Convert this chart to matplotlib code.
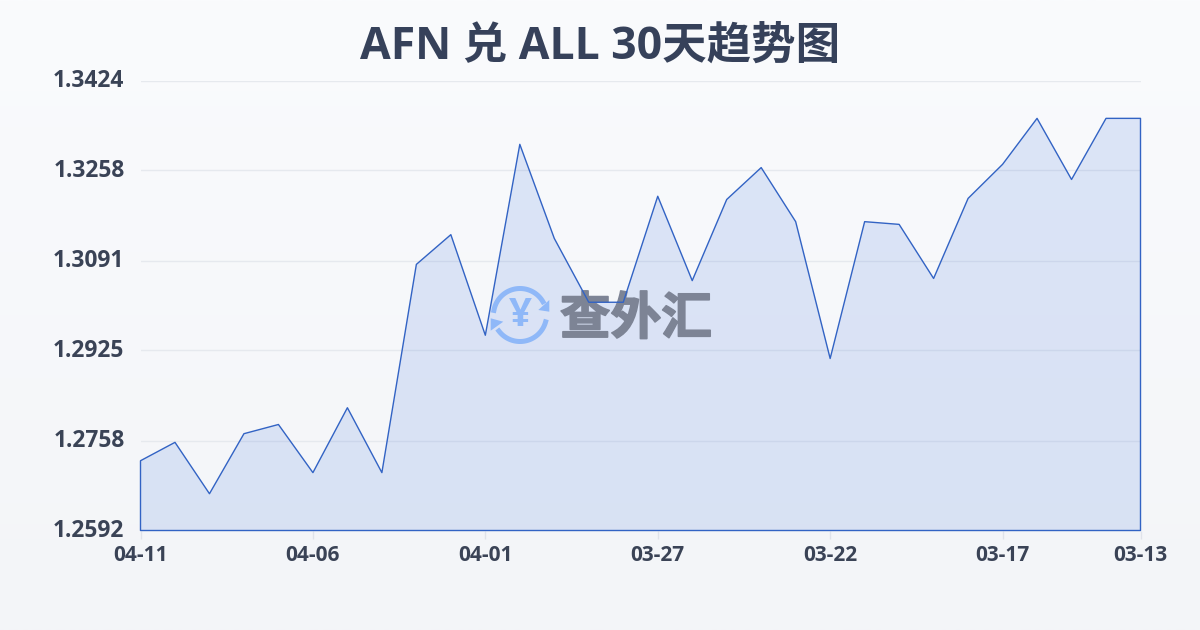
import matplotlib
matplotlib.use('Agg')
import matplotlib.pyplot as plt
import matplotlib.patheffects as pe
from matplotlib.transforms import ScaledTranslation
import numpy as np

# values, newest day first
dates = ['04-11', '04-10', '04-09', '04-08', '04-07', '04-06', '04-05', '04-04', '04-03', '04-02',
         '04-01', '03-31', '03-30', '03-29', '03-28', '03-27', '03-26', '03-25', '03-24', '03-23',
         '03-22', '03-21', '03-20', '03-19', '03-18', '03-17', '03-16', '03-15', '03-14', '03-13']
rates = [1.2721, 1.2755, 1.2660, 1.2771, 1.2788, 1.2699, 1.2819, 1.2699, 1.3084, 1.3139,
         1.2953, 1.3306, 1.3132, 1.3014, 1.3014, 1.3210, 1.3054, 1.3204, 1.3263, 1.3163,
         1.2910, 1.3163, 1.3158, 1.3058, 1.3206, 1.3269, 1.3354, 1.3241, 1.3354, 1.3354]
y_ticks = [1.2592, 1.2758, 1.2925, 1.3091, 1.3258, 1.3424]
x_ticks = [0, 5, 10, 15, 20, 25, 29]

latin_cjk = ['Open Sans', 'Noto Sans CJK SC', 'DejaVu Sans']
text_color = '#3a4356'

fig = plt.figure(figsize=(12, 6.3), dpi=100)

# page background, also used as a pixel coordinate system
bg = fig.add_axes([0, 0, 1, 1], zorder=0)
bg.set_xlim(0, 1200)
bg.set_ylim(630, 0)
bg.axis('off')
grad = np.linspace(0, 1, 256).reshape(-1, 1)
top = np.array([250, 251, 253]) / 255
bottom = np.array([243, 245, 248]) / 255
bg.imshow(top + (bottom - top) * grad[..., None], extent=[0, 1200, 630, 0], aspect='auto')

ax = fig.add_axes([140.5 / 1200, 99.5 / 630, 1000 / 1200, 450 / 630], zorder=1)
ax.patch.set_alpha(0)
x = np.arange(len(rates))
ax.set_xlim(0, len(rates) - 1)
ax.set_ylim(y_ticks[0], y_ticks[-1])

for s in ax.spines.values():
    s.set_visible(False)
ax.grid(axis='y', color='#e6e9ee', lw=1, zorder=1)
ax.set_axisbelow(True)

ax.fill_between(x, rates, y_ticks[0], facecolor='#3a70dc', alpha=0.15, lw=0, zorder=2)
ax.fill_between(x, rates, y_ticks[0], facecolor='none', edgecolor='#3263c4', lw=1.0, zorder=5, clip_on=False)

ax.set_yticks(y_ticks)
ax.set_yticklabels(['%.4f' % v for v in y_ticks], family=latin_cjk, fontweight='bold',
                   fontsize=16.4, color=text_color)
ax.tick_params(axis='y', length=0, pad=11.5)
# labels sit a little above their grid lines
nudge = ScaledTranslation(0, 2 / 72, fig.dpi_scale_trans)
for lab in ax.get_yticklabels():
    lab.set_transform(lab.get_transform() + nudge)
ax.set_xticks(x_ticks)
ax.set_xticklabels([dates[i] for i in x_ticks], family=latin_cjk, fontweight='bold',
                   fontsize=15, color=text_color)
ax.tick_params(axis='x', length=6, width=1, color='#e0e3ea', pad=4.5)

fig.text(600 / 1200, 1 - 47 / 630, 'AFN 兑 ALL 30天趋势图', family=latin_cjk, fontweight='bold',
         fontsize=32, color='#36415a', ha='center', va='center')

# watermark logo and name
logo = '#8fb8f8'
px = bg.transData
t = np.radians(np.linspace(190, 330, 40))
ax.plot(520 + 26.5 * np.cos(t), 315 + 26.5 * np.sin(t), color=logo, lw=3.6, transform=px, clip_on=False, zorder=3)
t = np.radians(np.linspace(15, 143, 40))
ax.plot(520 + 26.5 * np.cos(t), 315 + 26.5 * np.sin(t), color=logo, lw=3.6, transform=px, clip_on=False, zorder=3)
ax.fill([549.3, 549.3, 538.3], [300, 311.7, 310], color=logo, lw=0, transform=px, clip_on=False, zorder=3)
ax.fill([490.7, 490.7, 503.3], [318.3, 330.7, 321.7], color=logo, lw=0, transform=px, clip_on=False, zorder=3)
ax.text(520, 315, '¥', family=latin_cjk, fontweight='bold', fontsize=29, color=logo,
        ha='center', va='center', transform=px, zorder=3)
name = ax.text(636, 321, '查外汇', family=latin_cjk, fontweight='bold', fontsize=36.5, color='#7d8495',
               ha='center', va='center', transform=px, zorder=3)
name.set_path_effects([pe.withStroke(linewidth=1.2, foreground='#7d8495')])

fig.savefig('out.png', dpi=100)
